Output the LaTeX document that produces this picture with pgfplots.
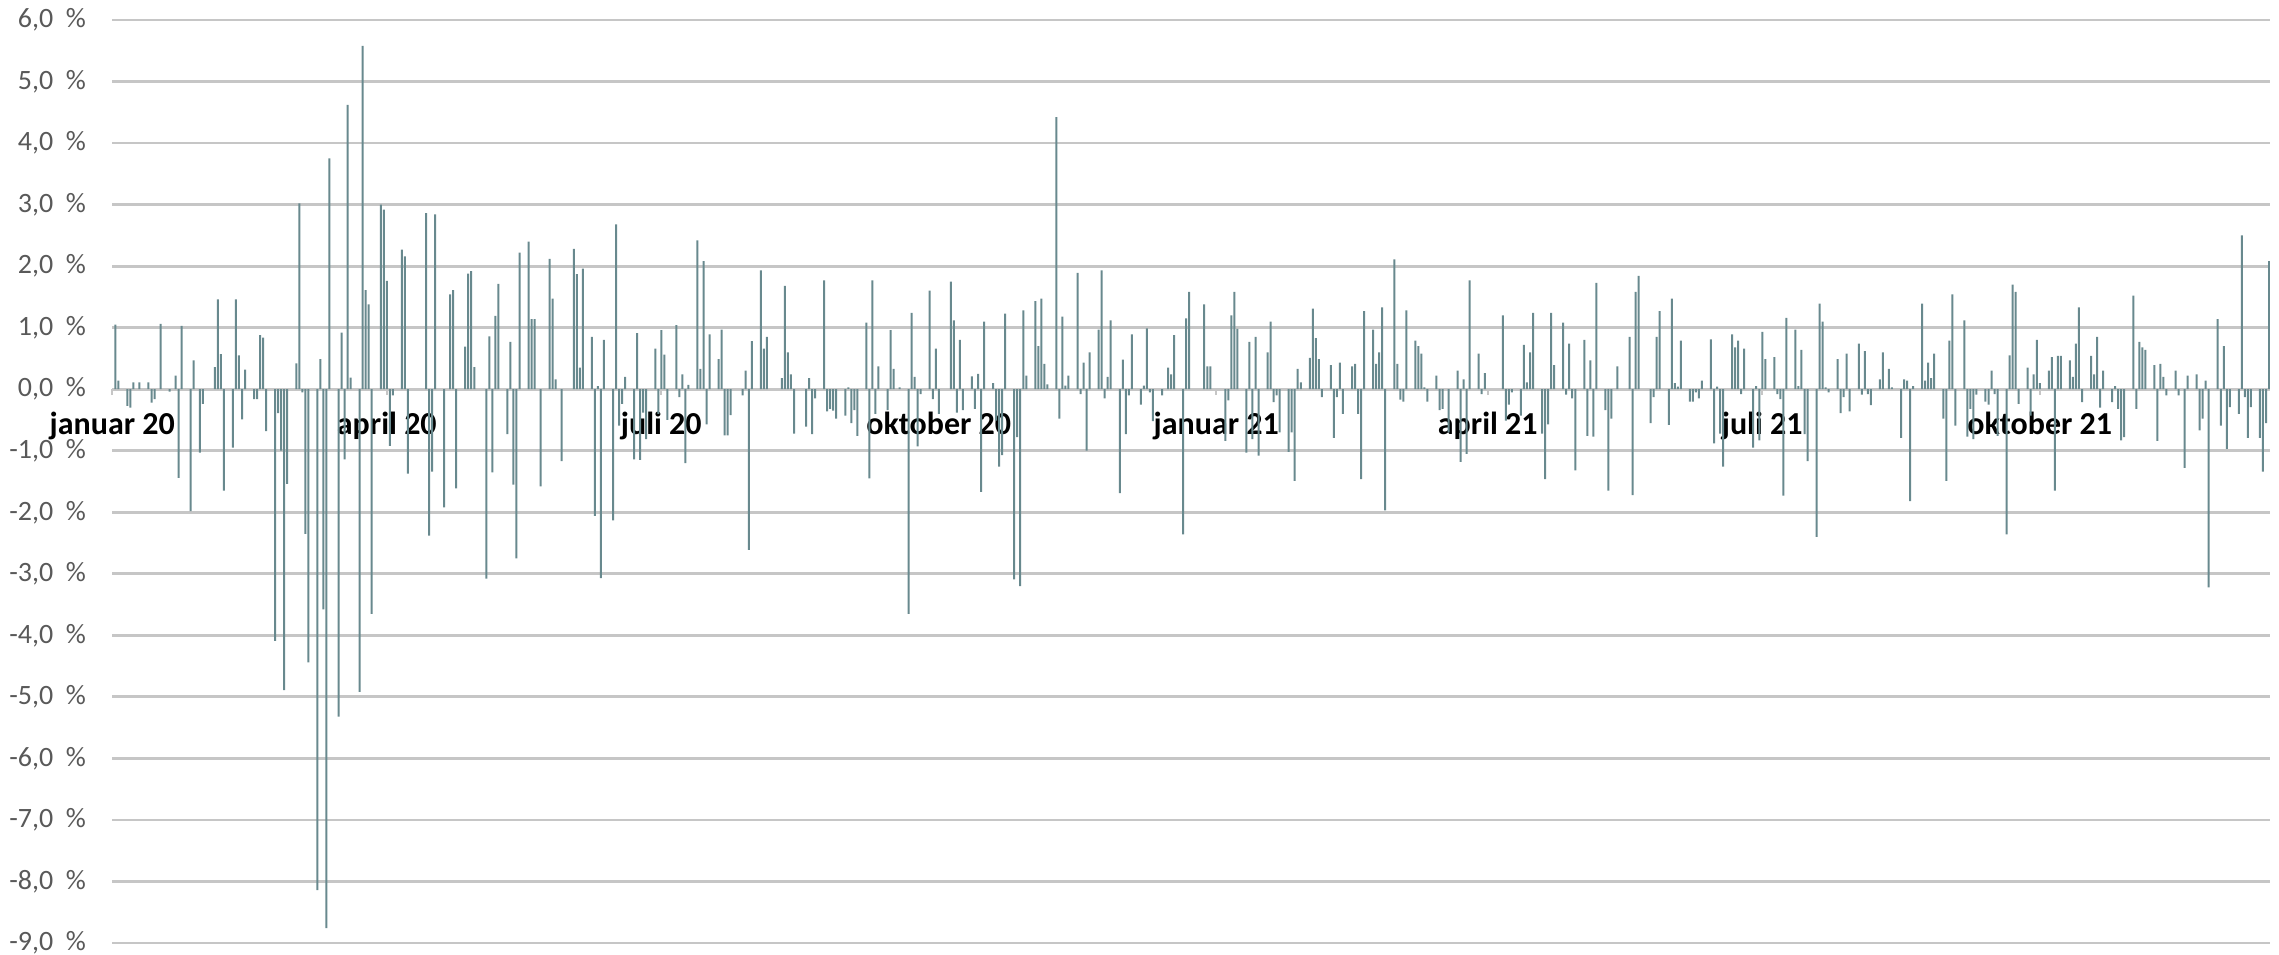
\documentclass[border=0pt]{standalone}
\usepackage{pgfplots}
\pgfplotsset{compat=1.18}
\usepackage{fontspec}
\setmainfont{Carlito}
\definecolor{barc}{RGB}{104,137,142}
\definecolor{gridc}{RGB}{198,198,198}
\definecolor{labc}{RGB}{89,89,89}
\begin{document}
\begin{tikzpicture}
\useasboundingbox (-56.15pt,-5.5pt) rectangle (1083.35pt,471.5pt);
\begin{axis}[
  at={(0,0)}, anchor=south west,
  scale only axis, width=1078.85pt, height=461.5pt,
  xmin=0, xmax=715.3, ymin=-9, ymax=6,
  axis x line*=middle, axis y line*=left,
  hide obscured x ticks=false,
  x axis line style={draw=gridc, line width=1.4pt},
  y axis line style={draw=none},
  ytick={-9,-8,...,6},
  yticklabels={{-9,0\hspace{0.45em}\%},{-8,0\hspace{0.45em}\%},{-7,0\hspace{0.45em}\%},{-6,0\hspace{0.45em}\%},{-5,0\hspace{0.45em}\%},{-4,0\hspace{0.45em}\%},{-3,0\hspace{0.45em}\%},{-2,0\hspace{0.45em}\%},{-1,0\hspace{0.45em}\%},{0,0\hspace{0.45em}\%},{1,0\hspace{0.45em}\%},{2,0\hspace{0.45em}\%},{3,0\hspace{0.45em}\%},{4,0\hspace{0.45em}\%},{5,0\hspace{0.45em}\%},{6,0\hspace{0.45em}\%}},
  ytick style={draw=none},
  yticklabel style={font=\fontsize{14}{16}\selectfont, text=labc, anchor=east, inner sep=0pt, xshift=-13pt},
  xtick={0,91,182,274,366,456,547,639},
  xticklabels={januar 20,april 20,juli 20,oktober 20,januar 21,april 21,juli 21,oktober 21},
  xtick align=outside,
  major tick length=3pt,
  xtick style={draw=gridc, line width=1pt},
  xticklabel style={font=\bfseries\fontsize{16}{18}\selectfont, text=black, anchor=base, inner sep=0pt, yshift=-19.5pt},
  ymajorgrids,
  grid style={draw=gridc, line width=1.4pt},
]
\addplot[ybar, bar width=1pt, fill=barc, draw=none] table {
x y
1 1.05
2 0.14
5 -0.27
6 -0.30
7 0.11
9 0.11
12 0.11
13 -0.22
14 -0.16
16 1.06
19 -0.04
21 0.22
22 -1.44
23 1.03
26 -1.98
27 0.47
29 -1.03
30 -0.24
34 0.36
35 1.46
36 0.57
37 -1.65
40 -0.95
41 1.46
42 0.55
43 -0.49
44 0.32
47 -0.16
48 -0.16
49 0.88
50 0.84
51 -0.68
54 -4.09
55 -0.39
56 -1.00
57 -4.89
58 -1.54
61 0.42
62 3.02
63 -0.05
64 -2.35
65 -4.44
68 -8.14
69 0.49
70 -3.58
71 -8.76
72 3.75
75 -5.32
76 0.92
77 -1.14
78 4.62
79 0.19
82 -4.92
83 5.58
84 1.61
85 1.38
86 -3.65
89 3.00
90 2.92
91 1.76
92 -0.92
93 -0.10
96 2.27
97 2.16
98 -1.37
104 2.86
105 -2.38
106 -1.34
107 2.84
110 -1.92
112 1.54
113 1.61
114 -1.61
117 0.69
118 1.88
119 1.92
120 0.36
124 -3.08
125 0.86
126 -1.35
127 1.19
128 1.71
131 -0.73
132 0.77
133 -1.55
134 -2.75
135 2.22
138 2.40
139 1.14
140 1.14
142 -1.58
145 2.12
146 1.47
147 0.16
149 -1.17
153 2.28
154 1.87
155 0.35
156 1.96
159 0.85
160 -2.06
161 0.05
162 -3.07
163 0.80
166 -2.13
167 2.68
168 -0.59
169 -0.24
170 0.20
173 -1.14
174 0.91
175 -1.15
176 -0.38
177 -0.81
180 0.66
181 -0.40
182 0.96
183 0.56
184 -0.50
187 1.04
188 -0.13
189 0.24
190 -1.20
191 0.07
194 2.42
195 0.33
196 2.08
197 -0.57
198 0.89
201 0.49
202 0.97
203 -0.75
204 -0.75
205 -0.42
209 -0.10
210 0.30
211 -2.61
212 0.78
215 1.93
216 0.66
217 0.85
222 0.18
223 1.68
224 0.60
225 0.24
226 -0.72
230 -0.61
231 0.18
232 -0.73
233 -0.15
236 1.77
237 -0.36
238 -0.32
239 -0.35
240 -0.48
243 -0.43
244 0.03
245 -0.55
246 -0.34
247 -0.76
250 1.08
251 -1.45
252 1.77
253 -0.40
254 0.37
257 -0.34
258 0.96
259 0.33
261 0.03
264 -3.65
265 1.24
266 0.20
267 -0.93
268 -0.08
271 1.60
272 -0.16
273 0.66
274 -0.40
278 1.75
279 1.12
280 -0.38
281 0.80
282 -0.34
285 0.21
286 -0.32
287 0.25
288 -1.67
289 1.10
292 0.10
293 -0.51
294 -1.26
295 -1.07
296 1.23
299 -3.09
300 -0.78
301 -3.20
302 1.28
303 0.22
306 1.43
307 0.70
308 1.47
309 0.41
310 0.08
313 4.42
314 -0.48
315 1.18
316 0.06
317 0.22
320 1.89
321 -0.08
322 0.43
323 -1.00
324 0.60
327 0.97
328 1.93
329 -0.15
330 0.20
331 1.12
334 -1.69
335 0.48
336 -0.73
337 -0.10
338 0.89
341 -0.25
342 0.06
343 0.99
344 -0.05
345 -0.52
348 -0.10
350 0.35
351 0.24
352 0.88
355 -2.36
356 1.15
357 1.58
362 1.38
363 0.37
364 0.37
369 -0.84
370 -0.18
371 1.20
372 1.58
373 0.98
376 -1.03
377 0.77
378 -0.81
379 0.85
380 -1.08
383 0.60
384 1.10
385 -0.21
386 -0.10
387 -0.70
390 -1.02
391 -0.70
392 -1.49
393 0.33
394 0.11
397 0.51
398 1.31
399 0.83
400 0.49
401 -0.13
404 0.39
405 -0.79
406 -0.13
407 0.43
408 -0.40
411 0.37
412 0.41
413 -0.40
414 -1.46
415 1.27
418 0.97
419 0.41
420 0.60
421 1.33
422 -1.97
425 2.11
426 0.41
427 -0.17
428 -0.20
429 1.28
432 0.79
433 0.70
434 0.58
435 0.03
436 -0.20
439 0.22
440 -0.34
441 -0.32
443 -0.70
446 0.30
447 -1.18
448 0.16
449 -1.05
450 1.77
453 0.58
454 -0.08
455 0.26
461 1.20
462 -0.51
463 -0.25
464 -0.05
467 -0.43
468 0.72
469 0.11
470 0.60
471 1.24
474 -0.72
475 -1.46
476 -0.57
477 1.24
478 0.39
481 1.08
482 -0.09
483 0.74
484 -0.15
485 -1.32
488 0.80
489 -0.76
490 0.47
491 -0.77
492 1.73
495 -0.34
496 -1.65
497 -0.48
499 0.37
503 0.85
504 -1.72
505 1.58
506 1.84
510 -0.55
511 -0.13
512 0.85
513 1.27
516 -0.58
517 1.47
518 0.10
519 0.04
520 0.79
523 -0.20
524 -0.20
525 -0.05
526 -0.15
527 0.14
530 0.81
531 -0.88
532 0.04
533 -0.72
534 -1.26
537 0.89
538 0.68
539 0.79
540 -0.08
541 0.66
544 -0.95
545 0.05
546 -0.83
547 0.93
548 0.49
551 0.52
552 -0.08
553 -0.16
554 -1.73
555 1.16
558 0.97
559 0.05
560 0.64
561 -0.73
562 -1.17
565 -2.40
566 1.39
567 1.10
568 0.03
569 -0.05
572 0.49
573 -0.39
574 -0.13
575 0.58
576 -0.36
579 0.74
580 -0.09
581 0.62
582 -0.08
583 -0.26
586 0.16
587 0.60
589 0.33
590 0.03
593 -0.79
594 0.16
595 0.14
596 -1.82
597 0.05
600 1.39
601 0.14
602 0.43
603 0.18
604 0.58
607 -0.48
608 -1.49
609 0.79
610 1.54
611 -0.59
614 1.12
615 -0.77
616 -0.32
617 -0.81
618 -0.09
621 -0.20
622 -0.25
623 0.30
624 -0.08
625 -0.76
628 -2.36
629 0.55
630 1.70
631 1.58
632 -0.24
635 0.35
636 -0.43
637 0.24
638 0.80
639 0.10
642 0.30
643 0.52
644 -1.65
645 0.54
646 0.54
649 0.47
650 0.20
651 0.74
652 1.33
653 -0.21
656 0.54
657 0.24
658 0.85
659 -0.30
660 0.30
663 -0.21
664 0.05
665 -0.32
666 -0.83
667 -0.78
670 1.52
671 -0.32
672 0.77
673 0.68
674 0.64
677 0.39
678 -0.84
679 0.41
680 0.20
681 -0.10
684 0.30
685 -0.10
687 -1.28
688 0.22
691 0.24
692 -0.67
693 -0.48
694 0.14
695 -3.22
698 1.14
699 -0.59
700 0.70
701 -0.97
702 -0.29
705 -0.40
706 2.50
707 -0.13
708 -0.79
709 -0.29
712 -0.79
713 -1.34
714 -0.55
715 2.08
};
\end{axis}
\end{tikzpicture}
\end{document}
